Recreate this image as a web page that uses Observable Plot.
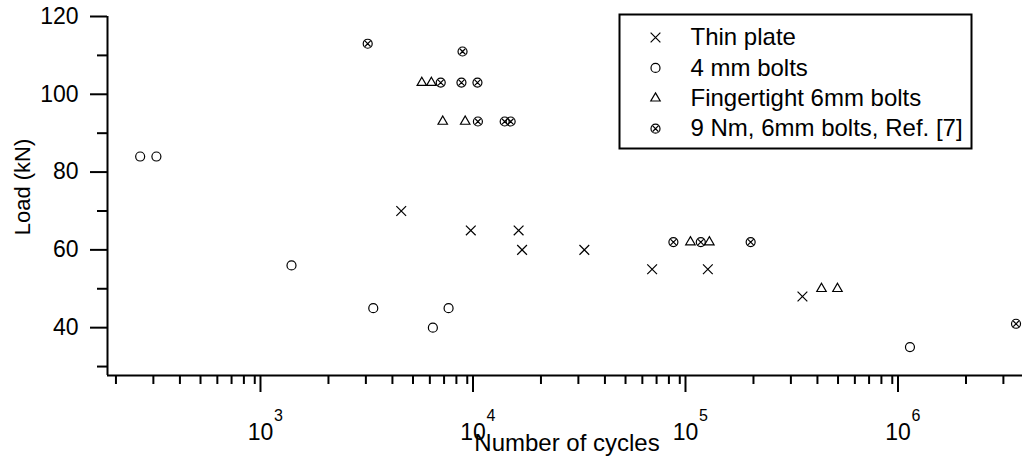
<!DOCTYPE html>
<html>
<head>
<meta charset="utf-8">
<script src="https://cdn.jsdelivr.net/npm/d3@7"></script>
<script src="https://cdn.jsdelivr.net/npm/@observablehq/plot@0.6"></script>
<style>
  html, body { margin: 0; padding: 0; background: #fff; }
  #chart { width: 1024px; height: 464px; }
</style>
</head>
<body>
<div id="chart"></div>
<script>
// ---- data ----
const seriesNames = ["Thin plate", "4 mm bolts", "Fingertight 6mm bolts", "9 Nm, 6mm bolts, Ref. [7]"];

const thinCycles = [4400, 9350, 15700, 16300, 32000, 66700, 122000, 340000];
const thinLoad   = [70, 65, 65, 60, 60, 55, 55, 48];

const bolt4Cycles = [260, 310, 1340, 3250, 6200, 7350, 1090000];
const bolt4Load   = [84, 84, 56, 45, 40, 45, 35];

const fingerCycles = [5500, 6100, 6900, 8800, 101000, 124000, 418000, 497000];
const fingerLoad   = [103, 103, 93, 93, 62, 62, 50, 50];

const nmCycles = [3060, 8550, 6750, 8450, 10050, 10100, 13500, 14400, 84000, 113000, 194000, 3440000];
const nmLoad   = [113, 111, 103, 103, 103, 93, 93, 93, 62, 62, 62, 41];

const xDomain = [182.5, 3.69e6];
const yDomain = [27.7, 120];
const xMajor = [1e3, 1e4, 1e5, 1e6];
const xMinor = [200, 300, 400, 500, 600, 700, 800, 900,
                2000, 3000, 4000, 5000, 6000, 7000, 8000, 9000,
                20000, 30000, 40000, 50000, 60000, 70000, 80000, 90000,
                200000, 300000, 400000, 500000, 600000, 700000, 800000, 900000,
                2000000, 3000000];
const yMajor = [40, 60, 80, 100, 120];
const yMinor = [30, 50, 70, 90, 110];
const xLabel = "Number of cycles";
const yLabel = "Load (kN)";

// ---- build table ----
const table = [];
[[thinCycles, thinLoad], [bolt4Cycles, bolt4Load], [fingerCycles, fingerLoad], [nmCycles, nmLoad]]
  .forEach(([cs, ls], k) => cs.forEach((c, i) => table.push({series: seriesNames[k], n: c, load: ls[i]})));

// circle with an x inside
const oslash = {
  draw(context, size) {
    const r = Math.sqrt(size / Math.PI);
    context.moveTo(r, 0);
    context.arc(0, 0, r, 0, 2 * Math.PI);
    const s = r * 0.62;
    context.moveTo(-s, -s); context.lineTo(s, s);
    context.moveTo(s, -s); context.lineTo(-s, s);
  }
};

const dotStyle = {r: 4.5, stroke: "black", strokeWidth: 1.2, fill: "none"};
const FONT = "'Liberation Sans', Arial, Helvetica, sans-serif";

const legendMarks = [];
seriesNames.forEach((name, i) => {
  legendMarks.push(Plot.dot([name], {symbol: d => d, frameAnchor: "top-left", dx: 548, dy: 21 + 30.4 * i, ...dotStyle}));
  legendMarks.push(Plot.text([name], {text: d => d, frameAnchor: "top-left", dx: 583, dy: 21 + 30.4 * i,
    textAnchor: "start", lineAnchor: "middle", fontSize: 24, fill: "black"}));
});

const chart = Plot.plot({
  width: 1024,
  height: 464,
  marginLeft: 107,
  marginRight: 2,
  marginTop: 16,
  marginBottom: 89,
  style: {fontFamily: FONT, background: "white", color: "black", overflow: "visible"},
  x: {type: "log", domain: xDomain, axis: null},
  y: {domain: yDomain, axis: null},
  symbol: {domain: seriesNames, range: ["times", "circle", "triangle2", oslash]},
  marks: [
    // axis lines
    Plot.ruleX([xDomain[0]], {stroke: "black", strokeWidth: 2}),
    Plot.ruleY([yDomain[0]], {stroke: "black", strokeWidth: 2}),
    // y axis
    Plot.axisY({ticks: yMajor, tickSize: 17, tickPadding: 12, fontSize: 23, strokeWidth: 2, label: null, tickFormat: d => String(d)}),
    Plot.axisY({ticks: yMinor, tickSize: 10, strokeWidth: 2, label: null, tickFormat: () => ""}),
    // x axis
    Plot.axisX({ticks: xMajor, tickSize: 17, tickPadding: 31, fontSize: 23, strokeWidth: 2, label: null, tickFormat: () => "10", dx: -4}),
    Plot.axisX({ticks: xMajor, tickSize: 0, tickPadding: 34, fontSize: 16, label: null, tickFormat: d => String(Math.round(Math.log10(d))), dx: 14}),
    Plot.axisX({ticks: xMinor, tickSize: 9, strokeWidth: 2, label: null, tickFormat: () => ""}),
    // axis titles
    Plot.text([yLabel], {text: d => d, frameAnchor: "left", textAnchor: "middle", rotate: -90, dx: -85, dy: -9, fontSize: 22, fill: "black"}),
    Plot.text([xLabel], {text: d => d, frameAnchor: "bottom", textAnchor: "middle", dx: 2, dy: 68, lineAnchor: "middle", fontSize: 24, fill: "black"}),
    // data
    Plot.dot(table, {x: "n", y: "load", symbol: "series", ...dotStyle}),
    // legend
    Plot.frame({insetLeft: 512, insetRight: 51, insetTop: -2, insetBottom: 227, stroke: "black", strokeWidth: 2}),
    ...legendMarks
  ]
});

document.getElementById("chart").appendChild(chart);
</script>
</body>
</html>
